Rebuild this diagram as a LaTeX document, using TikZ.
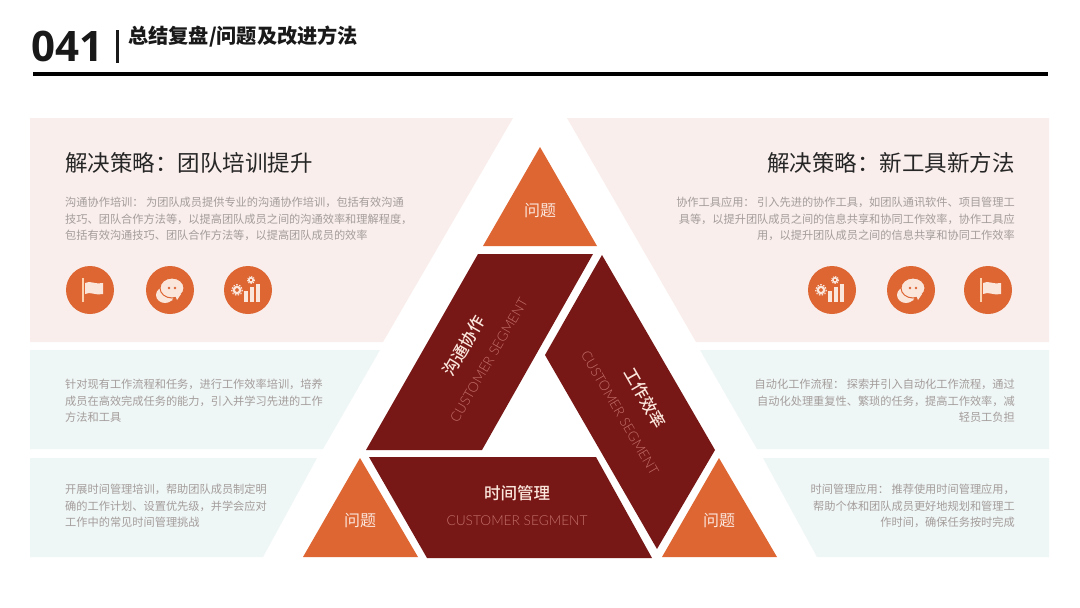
\documentclass[tikz,border=0pt]{standalone}
\usepackage{fontspec}
\setmainfont{Noto Sans CJK SC}
\newfontfamily\medfont{Noto Sans CJK SC Medium}
\newfontfamily\latinfont{Open Sans}
\newfontfamily\segfont{Lato Light}
\usetikzlibrary{calc, positioning}
\newcommand{\dou}{\char"FF0C\relax}
\newcommand{\mao}{\char"FF1A\relax}
\definecolor{pinkpanel}{HTML}{F9EEEB}
\definecolor{bluepanel}{HTML}{EFF6F6}
\definecolor{orangetri}{HTML}{DD6633}
\definecolor{darkseg}{HTML}{771716}
\definecolor{bodygray}{HTML}{A39D9B}
\definecolor{paletext}{HTML}{FBE6DC}
\definecolor{segtext}{HTML}{C4716A}
\tikzset{
  heading/.style={font=\fontsize{22.5}{27}\selectfont, text=black!85, inner sep=0pt},
  bodyleft/.style={font=\fontsize{11.2}{16.6}\selectfont, text=bodygray, align=left, anchor=north west, inner sep=0pt},
  bodyright/.style={font=\fontsize{11.2}{16.6}\selectfont, text=bodygray, align=right, anchor=north east, inner sep=0pt},
  problem/.style={font=\fontsize{16}{18}\selectfont, text=paletext, inner sep=0pt},
  segtitle/.style={font=\medfont\fontsize{16.5}{18}\selectfont, text=paletext, inner sep=0pt},
  segsub/.style={font=\segfont\fontsize{13.7}{16}\selectfont, text=segtext, inner sep=0pt},
  badge/.style={fill=orangetri, draw=none},
  flagicon/.pic={
    \fill[badge] (0,0) circle (24);
    \draw[paletext!80!orange, line width=1.3] (-7,-12) -- (-7,12);
    \fill[paletext] (-5,-7) .. controls (0,-10) and (6,-5) .. (13,-7) -- (13,4) .. controls (6,6) and (0,1) .. (-5,4) -- cycle;
  },
  chaticon/.pic={
    \fill[badge] (0,0) circle (24);
    \fill[paletext] (-5,5) ellipse (9 and 8);
    \fill[paletext] (-4,12) -- (-1,8) -- (3,10) -- cycle;
    \fill[paletext, draw=orangetri, line width=1] (2,-2) ellipse (12 and 10);
    \fill[paletext] (7,10) -- (5,5) -- (11,4) -- cycle;
    \fill[orangetri] (-1,-2) circle (1.4) (5,-2) circle (1.4);
  },
  charticon/.pic={
    \fill[badge] (0,0) circle (24);
    \fill[paletext] (-4,1) rectangle (0,12);
    \fill[paletext] (2,-3) rectangle (6,12);
    \fill[paletext] (8,-6) rectangle (12,12);
    \draw[paletext, line width=2.2] (-11,0) circle (3.2);
    \draw[paletext, line width=1.1, dash pattern=on 1.5 off 1.5] (-11,0) circle (5.4);
    \draw[paletext, line width=1.6] (3,-10) circle (2.2);
    \draw[paletext, line width=0.9, dash pattern=on 1.2 off 1.2] (3,-10) circle (3.6);
  }
}

\begin{document}
\begin{tikzpicture}[x=1pt,y=-1pt]
\useasboundingbox (0,0) rectangle (1080,608);
\fill[white] (0,0) rectangle (1080,608);

% Header
\node[font=\latinfont\bfseries\fontsize{42}{46}\selectfont, text=black!90, inner sep=0pt] (number) at (67,46) {041};
\fill[black!90] (116,30) rectangle (119,63);
\node[font=\fontsize{20.2}{24}\selectfont\bfseries, text=black!90, inner sep=0pt, anchor=west] (title) at (128,37) {总结复盘/问题及改进方法};
\fill[black] (33,72.3) rectangle (1048,75.7);

% Panels on the left
\fill[pinkpanel] (30,118) -- (513,118) -- (383,342) -- (30,342) -- cycle;
\fill[bluepanel] (30,350) -- (380,350) -- (323,449) -- (30,449) -- cycle;
\fill[bluepanel] (30,458) -- (317,458) -- (263,557) -- (30,557) -- cycle;

% Panels on the right
\fill[pinkpanel] (567,118) -- (1049,118) -- (1049,342) -- (696,342) -- cycle;
\fill[bluepanel] (700,350) -- (1049,350) -- (1049,449) -- (757,449) -- cycle;
\fill[bluepanel] (763,458) -- (1049,458) -- (1049,557) -- (817,557) -- cycle;

% Orange triangles
\fill[orangetri] (540,147) -- (597,246) -- (483,246) -- cycle;
\fill[orangetri] (360,458) -- (418,557) -- (303,557) -- cycle;
\fill[orangetri] (719,458) -- (777,557) -- (662,557) -- cycle;
\node[problem] (problemtop) at (540,211) {问题};
\node[problem] (problemleft) at (360,521) {问题};
\node[problem] (problemright) at (719,521) {问题};

% Dark segments
\fill[darkseg] (478,254) -- (593,254) -- (482,450) -- (366,450) -- cycle;
\fill[darkseg] (602,255) -- (715,450) -- (657,549) -- (545,355) -- cycle;
\fill[darkseg] (369,457) -- (596,457) -- (652,558) -- (427,558) -- cycle;

% Segment labels
\node[segtitle, rotate=60] (commlabel) at (464,346) {沟通协作};
\node[segsub, rotate=60] (commsub) at (489,360) {CUSTOMER SEGMENT};
\node[segtitle, rotate=-60] (worklabel) at (645,398) {工作效率};
\node[segsub, rotate=-60] (worksub) at (620,413) {CUSTOMER SEGMENT};
\node[segtitle] (timelabel) at (517,493) {时间管理};
\node[segsub] (timesub) at (517,521) {CUSTOMER SEGMENT};

% Left texts
\node[heading, anchor=west] (headleft) at (65,163) {解决策略\mao 团队培训提升};
\node[bodyleft] (textleft) at (65,197) {沟通协作培训\mao{} 为团队成员提供专业的沟通协作培训\dou 包括有效沟通\\技巧、团队合作方法等\dou 以提高团队成员之间的沟通效率和理解程度\dou\\包括有效沟通技巧、团队合作方法等\dou 以提高团队成员的效率};
\node[bodyleft] (textworkleft) at (65,379) {针对现有工作流程和任务\dou 进行工作效率培训\dou 培养\\成员在高效完成任务的能力\dou 引入并学习先进的工作\\方法和工具};
\node[bodyleft] (texttimeleft) at (65,484) {开展时间管理培训\dou 帮助团队成员制定明\\确的工作计划、设置优先级\dou 并学会应对\\工作中的常见时间管理挑战};

% Right texts
\node[heading, anchor=east] (headright) at (1015,163) {解决策略\mao 新工具新方法};
\node[bodyright] (textright) at (1015,197) {协作工具应用\mao{} 引入先进的协作工具\dou 如团队通讯软件、项目管理工\\具等\dou 以提升团队成员之间的信息共享和协同工作效率\dou 协作工具应\\用\dou 以提升团队成员之间的信息共享和协同工作效率};
\node[bodyright] (textworkright) at (1015,379) {自动化工作流程\mao{} 探索并引入自动化工作流程\dou 通过\\自动化处理重复性、繁琐的任务\dou 提高工作效率\dou 减\\轻员工负担};
\node[bodyright] (texttimeright) at (1015,484) {时间管理应用\mao{} 推荐使用时间管理应用\dou\\帮助个体和团队成员更好地规划和管理工\\作时间\dou 确保任务按时完成};

% Icons
\pic at (90,290) {flagicon};
\pic at (170,290) {chaticon};
\pic at (248,290) {charticon};
\pic at (832,290) {charticon};
\pic at (911,290) {chaticon};
\pic at (988,290) {flagicon};
\end{tikzpicture}
\end{document}
